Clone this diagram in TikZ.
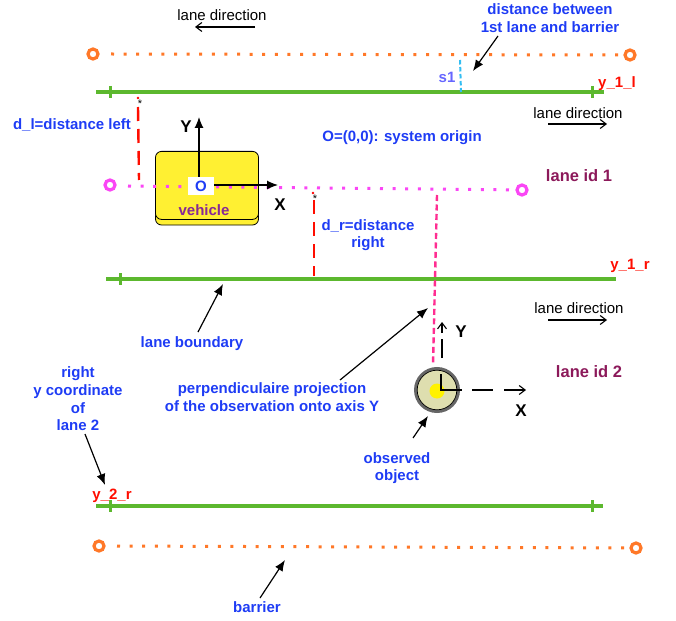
\documentclass[tikz,border=0pt]{standalone}
\usepackage{fontspec}
\setmainfont{Liberation Sans}
\usetikzlibrary{calc,arrows.meta}
\tikzset{>=latex}
\definecolor{labelblue}{RGB}{30,60,245}
\definecolor{lanegreen}{RGB}{92,184,46}
\definecolor{barrierorange}{RGB}{255,120,40}
\definecolor{lanepink}{RGB}{250,70,245}
\definecolor{idpurple}{RGB}{140,25,90}
\definecolor{vehicleyellow}{RGB}{255,240,50}
\definecolor{vehiclepurple}{RGB}{135,40,150}
\definecolor{objbeige}{RGB}{222,222,175}
\definecolor{projpink}{RGB}{255,45,145}
\tikzset{
  bluelabel/.style={text=labelblue, font=\fontsize{15}{16.6}\selectfont\bfseries, align=center, inner sep=0pt},
  redlabel/.style={text=red!90!orange, font=\fontsize{15}{16}\selectfont\bfseries, inner sep=0pt},
  blacklabel/.style={font=\fontsize{17}{18}\selectfont\bfseries, inner sep=0pt},
  idlabel/.style={text=idpurple, font=\fontsize{16.5}{18}\selectfont\bfseries, inner sep=0pt},
  dirlabel/.style={font=\fontsize{15}{17}\selectfont, inner sep=0pt},
  lanemain/.style={draw=lanegreen, line width=3.2pt},
  laneshade/.style={draw=black!30, line width=1.6pt},
  lanetick/.style={draw=lanegreen, line width=3pt},
  barrierdots/.style={draw=barrierorange, line width=3pt, dash pattern=on 3pt off 9.6pt},
  pinkdots/.style={draw=lanepink, line width=3pt, dash pattern=on 3pt off 9.6pt},
  endring/.style={circle, draw=#1, fill=white, line width=3.2pt, minimum size=10pt, inner sep=0pt},
  reddash/.style={draw=red!90!orange, line width=2.4pt, dash pattern=on 14pt off 8pt},
  pointer/.style={->, line width=1.2pt, >={Latex[length=11pt,width=9pt]}},
  openarrow/.style={->, line width=1.1pt, >={Straight Barb[length=6pt,width=9pt]}},
  staricon/.style={font=\fontsize{11}{11}\selectfont, inner sep=0pt}
}
\begin{document}
\begin{tikzpicture}[x=1pt, y=-1pt]
\useasboundingbox (0,0) rectangle (676,620);

% barriers
\node[endring=barrierorange] (bt-l) at (93,54) {};
\node[endring=barrierorange] (bt-r) at (630,55) {};
\node[endring=barrierorange] (bb-l) at (99,546) {};
\node[endring=barrierorange] (bb-r) at (636,548) {};
\draw[barrierdots] (bt-l) ++(18,0) -- (bt-r);
\draw[barrierdots] (bb-l) ++(18,0) -- (bb-r);

% lanes
\coordinate (l1-a) at (96,92);  \coordinate (l1-s) at (360,92);  \coordinate (l1-b) at (604,92);
\coordinate (l2-a) at (106,279); \coordinate (l2-s) at (370,279); \coordinate (l2-b) at (616,279);
\coordinate (l3-a) at (96,506); \coordinate (l3-s) at (360,506); \coordinate (l3-b) at (603,506);
\foreach \n in {l1,l2,l3}{
  \draw[laneshade] ($(\n-a)+(0,1.5)$) -- ($(\n-s)+(0,1.5)$);
  \draw[lanemain] (\n-a) -- (\n-b);
}
\foreach \x/\y in {110/92,592/92,120/279,110/506,592/506}{
  \draw[lanetick] (\x,\y-6) -- (\x,\y+6);
}

% vehicle
\node[draw, thick, fill=vehicleyellow, rounded corners=6pt, minimum width=103pt, minimum height=68pt] (vehicle-low) at (207,191) {};
\node[draw, thick, fill=vehicleyellow, rounded corners=6pt, minimum width=103pt, minimum height=68pt, anchor=north] (vehicle) at (207,151) {};
\node[text=vehiclepurple, font=\fontsize{15}{16}\selectfont\bfseries, inner sep=0pt] (vehicle-txt) at (204,210) {vehicle};

% lane centre
\node[endring=lanepink] (c-l) at (110,185) {};
\node[endring=lanepink] (c-r) at (522,190) {};
\draw[pinkdots] (c-l) ++(18,1) -- (c-r);

\node[bluelabel, fill=white, minimum width=26pt, minimum height=18pt] (origin) at (201,186) {O};
\coordinate (y-tip) at (199,117);
\coordinate (x-tip) at (278,185);
\draw[pointer] (origin.north -| y-tip) -- (y-tip);
\draw[pointer] (origin.east |- x-tip) -- (x-tip);
\node[blacklabel] (y-lbl) at (186,127) {Y};
\node[blacklabel] (x-lbl) at (280,205) {X};

% distances
\coordinate (dl-a) at (138,107); \coordinate (dl-b) at (139,180);
\coordinate (dr-a) at (314,200); \coordinate (dr-b) at (314,276);
\draw[reddash] (dl-a) -- (dl-b);
\draw[reddash] (dr-a) -- (dr-b);
\fill[red] (138,98) circle (1.3pt);
\fill[red] (313,193) circle (1.3pt);
\node[staricon] (dl-star) at (140,104) {*};
\node[staricon] (dr-star) at (315,199) {*};
\coordinate (s-a) at (460,60); \coordinate (s-b) at (461,92);
\draw[cyan!80!white, line width=2pt, dash pattern=on 4.5pt off 2.5pt] (s-a) -- (s-b);
\coordinate (p-a) at (437,195); \coordinate (p-b) at (433,365);
\draw[draw=projpink, line width=2.4pt, dash pattern=on 6pt off 3.5pt] (p-a) -- (p-b);

% observed object
\node[circle, draw=black!60, line width=3pt, fill=objbeige, minimum size=43pt, inner sep=0pt] (obj) at (437,390) {};
\draw[black, line width=0.7pt] (obj) circle (19.8pt);
\node[circle, fill=yellow, minimum size=15pt, inner sep=0pt] (obj-core) at (437,391) {};
\coordinate (obj-c) at (441,390);
\draw[line width=1.1pt] (441,374) -- (obj-c) -- (462,390);
\coordinate (oy-a) at (442,358); \coordinate (oy-b) at (442,339);
\coordinate (oy-c) at (442,333); \coordinate (oy-d) at (442,322);
\draw[line width=1.1pt] (oy-a) -- (oy-b);
\draw[openarrow] (oy-c) -- (oy-d);
\coordinate (ox-a) at (472,390); \coordinate (ox-b) at (493,390);
\coordinate (ox-c) at (504,390); \coordinate (ox-d) at (526,390);
\draw[line width=1.1pt] (ox-a) -- (ox-b);
\draw[openarrow] (ox-c) -- (ox-d);
\node[blacklabel] (oy-lbl) at (461,332) {Y};
\node[blacklabel] (ox-lbl) at (521,411) {X};

% labels
\node[dirlabel] (dir-top) at (222,15) {lane direction};
\node[dirlabel] (dir-mid) at (578,113) {lane direction};
\node[dirlabel] (dir-low) at (579,308) {lane direction};
\coordinate (dt-a) at (255,27); \coordinate (dt-b) at (195,27);
\coordinate (dm-a) at (548,124); \coordinate (dm-b) at (607,124);
\coordinate (dl2-a) at (548,320); \coordinate (dl2-b) at (607,320);
\draw[openarrow] (dt-a) -- (dt-b);
\draw[openarrow] (dm-a) -- (dm-b);
\draw[openarrow] (dl2-a) -- (dl2-b);

\node[bluelabel] (barrier-gap) at (550,18) {distance between\\[1pt]1st lane and barrier};
\node[text=blue!60!white, font=\fontsize{15}{16}\selectfont\bfseries, inner sep=0pt] (s-lbl) at (447,77) {s1};
\node[redlabel] (y1l) at (617,84) {y\_1\_l};
\node[redlabel] (y1r) at (630,266) {y\_1\_r};
\node[redlabel] (y2r) at (112,496) {y\_2\_r};
\node[bluelabel] (dl-lbl) at (72,125) {d\_l=distance left};
\node[bluelabel] (origin-lbl) at (402,138) {O=(0,0): system origin};
\node[bluelabel] (dr-lbl) at (368,235) {d\_r=distance\\[1pt]right};
\node[idlabel] (id1) at (579,176) {lane id 1};
\node[idlabel] (id2) at (589,372) {lane id 2};
\node[bluelabel] (boundary-lbl) at (192,344) {lane boundary};
\node[bluelabel] (right-lbl) at (78,399) {right\\[1pt]y coordinate\\[1pt]of\\[1pt]lane 2};
\node[bluelabel] (proj-lbl) at (272,397) {perpendiculaire projection\\[1pt]of the observation onto axis Y};
\node[bluelabel] (obs-lbl) at (397,468) {observed\\[1pt]object};
\node[bluelabel] (barrier-lbl) at (257,607) {barrier};

% pointers
\coordinate (a1) at (498,36); \coordinate (a2) at (473,71);
\coordinate (a3) at (198,332); \coordinate (a4) at (223,284);
\coordinate (a5) at (340,380); \coordinate (a6) at (428,308);
\coordinate (a7) at (413,438); \coordinate (a8) at (428,416);
\coordinate (a9) at (85,434); \coordinate (a10) at (105,485);
\coordinate (a11) at (260,598); \coordinate (a12) at (285,560);
\path[pointer]
(a1) edge (a2)
(a3) edge (a4)
(a5) edge (a6)
(a7) edge (a8)
(a9) edge (a10)
(a11) edge (a12)
;
\end{tikzpicture}
\end{document}
